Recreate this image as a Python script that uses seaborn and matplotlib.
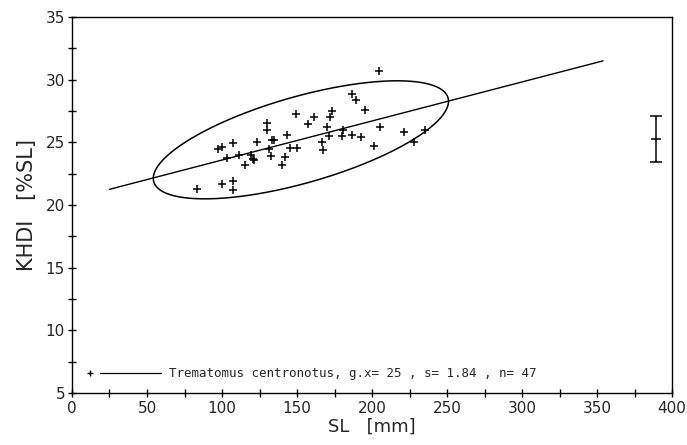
import numpy as np
import pandas as pd
import matplotlib
matplotlib.use("Agg")
import matplotlib.pyplot as plt
import seaborn as sns

# ---- data ----
sl = [149, 161, 173, 172, 157, 170, 171.5, 166.5, 167.5, 130, 130, 143.5, 123, 133,
      134.5, 131, 145, 150, 107, 100, 97.5, 103.5, 111.5, 119, 120.5, 115, 121.5,
      132.5, 142, 140, 100, 107.5, 107, 204.5, 186.5, 189.5, 195, 205, 180.5, 180,
      186.5, 192.5, 221, 235, 201, 228, 83]
khdi = [27.25, 27.05, 27.5, 27.05, 26.5, 26.25, 25.5, 25.05, 24.35, 26.55, 26.0,
        25.55, 25.05, 25.15, 25.15, 24.45, 24.55, 24.55, 24.95, 24.65, 24.45, 23.75,
        24.0, 23.95, 23.7, 23.2, 23.55, 23.9, 23.8, 23.2, 21.65, 21.95, 21.2, 30.7,
        28.85, 28.4, 27.55, 26.2, 26.0, 25.5, 25.6, 25.4, 25.8, 26.0, 24.7, 25.0, 21.3]

line_x = [25, 354]
line_y = [21.25, 31.5]

ell_center = [152.6, 25.2]
ell_half = [98.4, 4.71]      # half extents in x and y
ell_phase = 0.86             # phase shift (rad) giving the tilt

err_x = [389]
err_mean = [25.3]
err_sd = [1.84]

xticks = [0, 50, 100, 150, 200, 250, 300, 350, 400]
yticks = [5, 10, 15, 20, 25, 30, 35]
legend_text = "Trematomus centronotus, g.x= 25 , s= 1.84 , n= 47"

# ---- figure ----
sns.set_style("white")
plt.rcParams['font.family'] = ['DejaVu Sans']

fig = plt.figure(figsize=(6.87, 4.45), dpi=100)
ax = fig.add_axes([0.1048, 0.1169, 0.8734, 0.8449])

df = pd.DataFrame({"SL": sl, "KHDI": khdi})
sns.scatterplot(data=df, x="SL", y="KHDI", marker="+", color="black",
                s=40, linewidth=1.1, ax=ax, zorder=3)

sns.lineplot(x=line_x, y=line_y, color="black", linewidth=1.0, ax=ax)

t = np.linspace(0, 2 * np.pi, 400)
ex = ell_center[0] + ell_half[0] * np.cos(t)
ey = ell_center[1] + ell_half[1] * np.cos(t - ell_phase)
sns.lineplot(x=ex, y=ey, sort=False, estimator=None, color="black",
             linewidth=1.1, ax=ax)

ax.errorbar(err_x, err_mean, yerr=err_sd, fmt="_", color="black",
            markersize=7, capsize=4, elinewidth=1.1, capthick=1.1, mew=1.1)

# legend drawn as in the original plotter output
ax.plot([0.03], [0.053], marker="+", color="black", ms=5, mew=1.0,
        transform=ax.transAxes, linestyle="none")
ax.plot([0.047, 0.148], [0.053, 0.053], color="black", lw=0.9,
        transform=ax.transAxes)
ax.text(0.161, 0.053, legend_text, transform=ax.transAxes, va="center",
        ha="left", fontsize=9.0, family=["DejaVu Sans Mono"])

ax.set_xlim(0, 400)
ax.set_ylim(5, 35)
ax.set_xticks(xticks)
ax.set_yticks(yticks)
ax.set_xticks(np.arange(0, 401, 25), minor=True)
ax.set_yticks(np.arange(5, 35.1, 2.5), minor=True)
ax.set_xticklabels([str(v) for v in xticks], fontsize=11)
ax.set_yticklabels([str(v) for v in yticks], fontsize=11)
ax.tick_params(axis="both", which="both", direction="inout", length=6,
               width=1.0, color="black", bottom=True, left=True,
               top=False, right=False)
ax.tick_params(axis="x", which="major", pad=3)
ax.tick_params(axis="y", which="major", pad=2)

for sp in ax.spines.values():
    sp.set_visible(True)
    sp.set_color("black")
    sp.set_linewidth(1.0)

ax.set_xlabel("SL   [mm]", fontsize=13, labelpad=1)
ax.set_ylabel("KHDI   [%SL]", fontsize=15, labelpad=6)
ax.grid(False)

fig.savefig("out.png", dpi=100, facecolor="white")
